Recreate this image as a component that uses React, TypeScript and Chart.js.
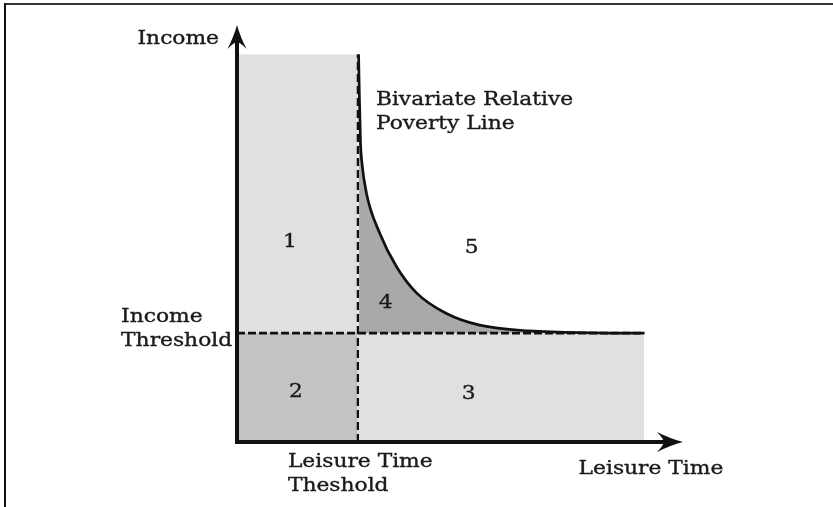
import React, { useEffect, useRef } from "react";
import { Chart, registerables } from "chart.js";

Chart.register(...registerables);

// ---- data (conceptual units: thresholds = 1) ----
const leisureThreshold = 1;
const incomeThreshold = 1;
const regionTop = 3.56;
const regionRight = 3.37;
const xAxisMax = 3.69;
const yAxisMax = 3.83;

// Bivariate relative poverty line
const curveX = [1.006, 1.012, 1.022, 1.031, 1.072, 1.18, 1.32, 1.485, 1.733, 2.008, 2.42, 2.97, 3.37];
const curveY = [3.56, 3.2, 2.74, 2.59, 2.28, 1.92, 1.61, 1.37, 1.18, 1.073, 1.02, 1.003, 1.0];

// region numbers
const regionLabels = ["1", "2", "3", "4", "5"];
const regionLabelX = [0.438, 0.488, 1.917, 1.231, 1.942];
const regionLabelY = [1.789, 0.413, 0.394, 1.229, 1.734];

// text annotations
const annotationTexts = [
  ["Income"],
  ["Bivariate Relative", "Poverty Line"],
  ["Income", "Threshold"],
  ["Leisure Time", "Theshold"],
  ["Leisure Time"],
];
const annotationX = [-0.149, 1.149, -0.959, 0.421, 2.826];
const annotationY = [3.651, 3.092, 1.101, -0.229, -0.294];
const annotationAlign = ["right", "left", "left", "left", "left"];

const LIGHT = "#e0e0e0";
const MID = "#c4c4c4";
const DARK = "#a9a9a9";
const INK = "#111111";
const TEXT = "#1a1a1a";
const FONT = '18px "DejaVu Serif"';
const TEXT_STRETCH = 1.21;
const LINE_GAP = 24;

const overlay = {
  id: "overlay",
  afterDraw(chart: any) {
    const ctx = chart.ctx as CanvasRenderingContext2D;
    const xs = chart.scales.x;
    const ys = chart.scales.y;
    const X = (v: number) => xs.getPixelForValue(v);
    const Y = (v: number) => ys.getPixelForValue(v);
    ctx.save();
    // frame
    ctx.fillStyle = "#333";
    ctx.fillRect(4, 3, chart.width - 4, 2);
    ctx.fillStyle = "#111";
    ctx.fillRect(4, 3, 2, chart.height - 3);

    // axes
    const ox = X(0);
    const oy = Y(0);
    const tipX = X(xAxisMax);
    const tipY = Y(yAxisMax);
    ctx.strokeStyle = INK;
    ctx.lineWidth = 4;
    ctx.lineCap = "butt";
    ctx.setLineDash([]);
    ctx.beginPath();
    ctx.moveTo(ox, oy + 2);
    ctx.lineTo(ox, tipY + 14);
    ctx.stroke();
    ctx.beginPath();
    ctx.moveTo(ox - 2, oy);
    ctx.lineTo(tipX - 14, oy);
    ctx.stroke();
    ctx.fillStyle = INK;
    // x arrow
    ctx.beginPath();
    ctx.moveTo(tipX, oy);
    ctx.quadraticCurveTo(tipX - 12, oy - 3, tipX - 26, oy - 10);
    ctx.quadraticCurveTo(tipX - 20, oy - 4, tipX - 19, oy);
    ctx.quadraticCurveTo(tipX - 20, oy + 4, tipX - 26, oy + 10);
    ctx.quadraticCurveTo(tipX - 12, oy + 3, tipX, oy);
    ctx.fill();
    // y arrow
    ctx.beginPath();
    ctx.moveTo(ox, tipY);
    ctx.quadraticCurveTo(ox - 3, tipY + 11, ox - 9.5, tipY + 24);
    ctx.quadraticCurveTo(ox - 4, tipY + 18, ox, tipY + 17);
    ctx.quadraticCurveTo(ox + 4, tipY + 18, ox + 9.5, tipY + 24);
    ctx.quadraticCurveTo(ox + 3, tipY + 11, ox, tipY);
    ctx.fill();

    // text
    ctx.font = FONT;
    ctx.fillStyle = TEXT;
    ctx.strokeStyle = TEXT;
    ctx.lineWidth = 0.35;
    ctx.textBaseline = "alphabetic";
    ctx.textAlign = "left";
    const txt = (s: string, x: number, y: number, align: string) => {
      const w = ctx.measureText(s).width * TEXT_STRETCH;
      const left = align === "center" ? x - w / 2 : align === "right" ? x - w : x;
      ctx.save();
      ctx.translate(left, y);
      ctx.scale(TEXT_STRETCH, 1);
      ctx.fillText(s, 0, 0);
      ctx.strokeText(s, 0, 0);
      ctx.restore();
    };
    regionLabels.forEach((s, i) => txt(s, X(regionLabelX[i]), Y(regionLabelY[i]), "center"));
    annotationTexts.forEach((lines, i) => {
      lines.forEach((s, j) =>
        txt(s, X(annotationX[i]), Y(annotationY[i]) + j * LINE_GAP, annotationAlign[i])
      );
    });
    ctx.restore();
  },
};

export default function App() {
  const ref = useRef<HTMLCanvasElement | null>(null);
  useEffect(() => {
    if (!ref.current) return;
    const curve = curveX.map((x, i) => ({ x, y: curveY[i] }));
    const chart = new Chart(ref.current, {
      type: "scatter",
      data: {
        datasets: [
          {
            label: "Bivariate Relative Poverty Line",
            data: curve,
            showLine: true,
            borderColor: INK,
            borderWidth: 2.7,
            backgroundColor: DARK,
            fill: { value: incomeThreshold },
            cubicInterpolationMode: "monotone",
            clip: false,
          },
          {
            label: "Leisure threshold",
            data: [
              { x: leisureThreshold, y: 0 },
              { x: leisureThreshold, y: regionTop },
            ],
            showLine: true,
            borderColor: INK,
            borderWidth: 2.3,
            borderDash: [8, 4],
            fill: false,
          },
          {
            label: "Income threshold",
            data: [
              { x: 0, y: incomeThreshold },
              { x: regionRight, y: incomeThreshold },
            ],
            showLine: true,
            borderColor: INK,
            borderWidth: 2.8,
            borderDash: [8, 3],
            fill: false,
          },
          {
            label: "Region 1",
            data: [
              { x: 0, y: regionTop },
              { x: leisureThreshold, y: regionTop },
            ],
            showLine: true,
            borderColor: "transparent",
            borderWidth: 0,
            backgroundColor: LIGHT,
            fill: { value: incomeThreshold },
          },
          {
            label: "Region 2",
            data: [
              { x: 0, y: incomeThreshold },
              { x: leisureThreshold, y: incomeThreshold },
            ],
            showLine: true,
            borderColor: "transparent",
            borderWidth: 0,
            backgroundColor: MID,
            fill: { value: 0 },
          },
          {
            label: "Region 3",
            data: [
              { x: leisureThreshold, y: incomeThreshold },
              { x: regionRight, y: incomeThreshold },
            ],
            showLine: true,
            borderColor: "transparent",
            borderWidth: 0,
            backgroundColor: LIGHT,
            fill: { value: 0 },
          },
        ],
      } as any,
      options: {
        animation: false,
        responsive: false,
        devicePixelRatio: 1,
        layout: { padding: { left: 237, right: 150, top: 25, bottom: 65 } },
        elements: { point: { radius: 0, hoverRadius: 0 }, line: { tension: 0 } },
        scales: {
          x: { type: "linear", min: 0, max: xAxisMax, display: false },
          y: { type: "linear", min: 0, max: yAxisMax, display: false },
        },
        plugins: {
          legend: { display: false },
          tooltip: { enabled: false },
          filler: { drawTime: "beforeDatasetsDraw" },
        },
      } as any,
      plugins: [overlay],
    });
    return () => chart.destroy();
  }, []);
  return (
    <div style={{ position: "absolute", left: 0, top: 0, width: 833, height: 507, background: "#fff" }}>
      <canvas ref={ref} width={833} height={507} style={{ display: "block" }} />
    </div>
  );
}
